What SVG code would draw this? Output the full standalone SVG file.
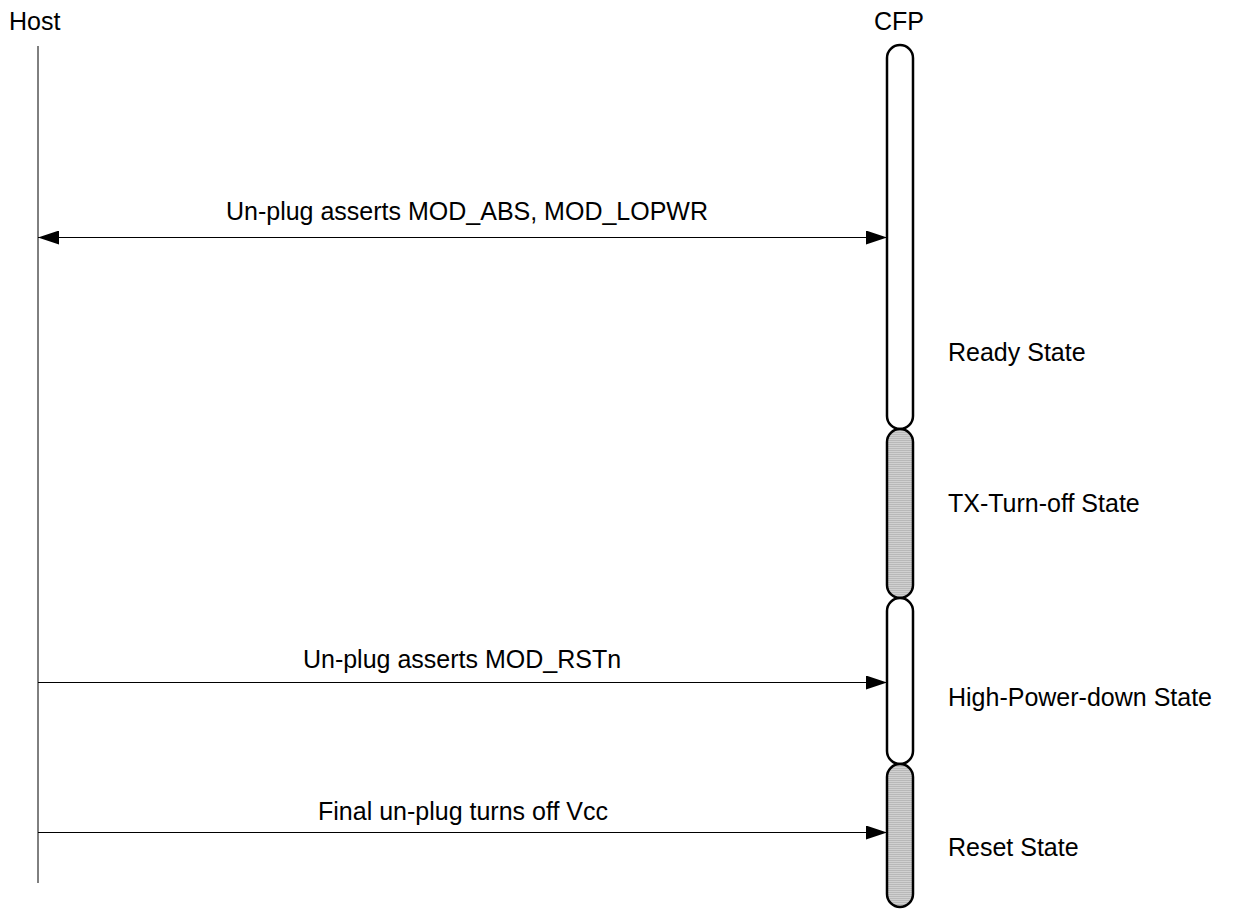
<svg xmlns="http://www.w3.org/2000/svg" width="1240" height="910" viewBox="0 0 1240 910">
<style>
text{font-family:"Liberation Sans",Arial,sans-serif;font-size:25px;fill:#000}
.life{stroke:#000;stroke-width:1;fill:none}
.msg{stroke:#000;stroke-width:1;fill:none}
.bar{stroke:#000;stroke-width:2.5}
.on{fill:#fff}
.off{fill:url(#hatch)}
</style>
<defs>
<pattern id="hatch" width="4" height="2" patternUnits="userSpaceOnUse">
<rect width="4" height="2" fill="#d0d0d0"/>
<rect width="4" height="1" fill="#b8b8b8"/>
</pattern>
<marker id="ah" viewBox="0 0 21 14" refX="21" refY="7" markerWidth="21" markerHeight="14" markerUnits="userSpaceOnUse" orient="auto-start-reverse">
<path d="M0,0 L21,7 L0,14 Z" fill="#000"/>
</marker>
</defs>
<g id="host">
<text x="9" y="30">Host</text>
<line class="life" x1="38" y1="46" x2="38" y2="883"/>
</g>
<g id="cfp">
<text x="874" y="30">CFP</text>
</g>
<g id="ready-state">
<rect class="bar on" x="887" y="45" width="26" height="384" rx="13" ry="13"/>
<text x="948" y="361">Ready State</text>
</g>
<g id="tx-turn-off-state">
<rect class="bar off" x="887" y="429" width="26" height="169" rx="13" ry="13"/>
<text x="948" y="512">TX-Turn-off State</text>
</g>
<g id="high-power-down-state">
<rect class="bar on" x="887" y="598" width="26" height="166" rx="13" ry="13"/>
<text x="948" y="706">High-Power-down State</text>
</g>
<g id="reset-state">
<rect class="bar off" x="887" y="764" width="26" height="143" rx="13" ry="13"/>
<text x="948" y="856">Reset State</text>
</g>
<g id="connectors">
<line class="msg" x1="38" y1="237.5" x2="887" y2="237.5" marker-start="url(#ah)" marker-end="url(#ah)"/>
<text x="467" y="220" text-anchor="middle">Un-plug asserts MOD_ABS, MOD_LOPWR</text>
<line class="msg" x1="38" y1="682.5" x2="887" y2="682.5" marker-end="url(#ah)"/>
<text x="462" y="668" text-anchor="middle">Un-plug asserts MOD_RSTn</text>
<line class="msg" x1="38" y1="832.5" x2="887" y2="832.5" marker-end="url(#ah)"/>
<text x="463" y="820" text-anchor="middle">Final un-plug turns off Vcc</text>
</g>
</svg>
